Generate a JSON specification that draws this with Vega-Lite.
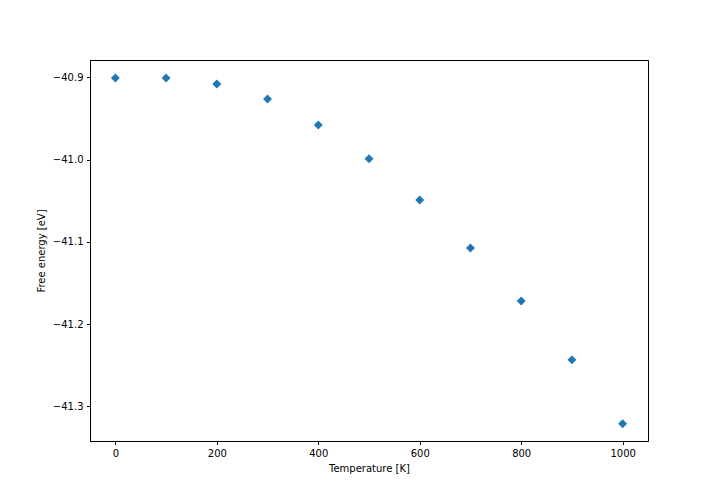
{
  "$schema": "https://vega.github.io/schema/vega-lite/v6.json",
  "width": 558,
  "height": 381,
  "autosize": {"type": "none"},
  "padding": {"left": 90, "top": 60, "right": 72, "bottom": 63},
  "background": "white",
  "config": {
    "view": {"stroke": "black", "strokeWidth": 1},
    "font": "DejaVu Sans",
    "axis": {
      "grid": false,
      "domainColor": "black",
      "tickColor": "black",
      "tickSize": 3.5,
      "labelPadding": 3.5,
      "labelFont": "DejaVu Sans",
      "labelFontSize": 10,
      "labelColor": "black",
      "titleFont": "DejaVu Sans",
      "titleFontSize": 10,
      "titleFontWeight": "normal",
      "titleColor": "black"
    }
  },
  "data": {
    "values": [
      {"T": 0, "F": -40.9007},
      {"T": 100, "F": -40.9006},
      {"T": 200, "F": -40.9080},
      {"T": 300, "F": -40.9263},
      {"T": 400, "F": -40.9579},
      {"T": 500, "F": -40.9990},
      {"T": 600, "F": -41.0490},
      {"T": 700, "F": -41.1074},
      {"T": 800, "F": -41.1719},
      {"T": 900, "F": -41.2436},
      {"T": 1000, "F": -41.3214}
    ]
  },
  "mark": {"type": "point", "shape": "diamond", "filled": true, "size": 80, "color": "#1f77b4", "opacity": 1},
  "encoding": {
    "x": {
      "field": "T", "type": "quantitative",
      "scale": {"domain": [-50, 1050], "nice": false, "zero": false},
      "axis": {"values": [0, 200, 400, 600, 800, 1000], "format": "d", "title": "Temperature [K]", "titlePadding": 5}
    },
    "y": {
      "field": "F", "type": "quantitative",
      "scale": {"domain": [-41.3423, -40.8788], "nice": false, "zero": false},
      "axis": {"values": [-40.9, -41.0, -41.1, -41.2, -41.3], "format": ".1f", "title": "Free energy [eV]", "titlePadding": 6}
    }
  }
}
